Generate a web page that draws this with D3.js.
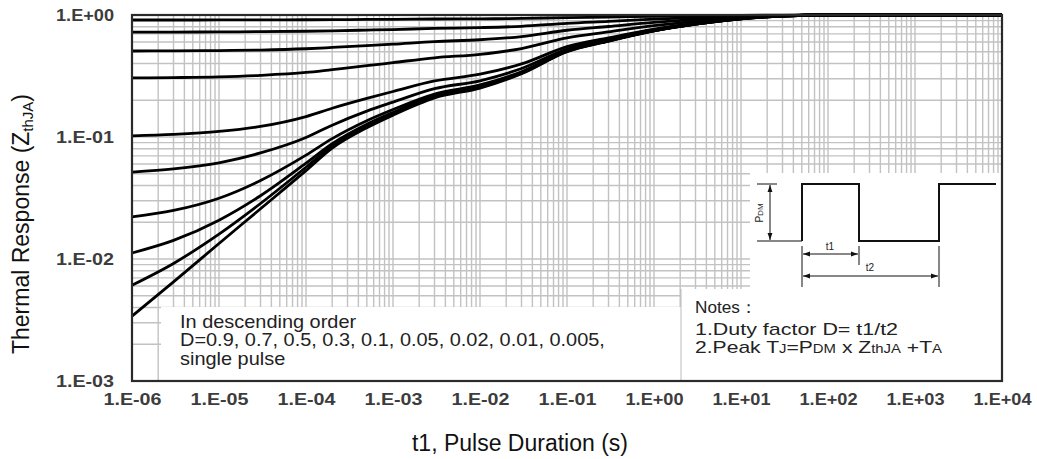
<!DOCTYPE html>
<html>
<head>
<meta charset="utf-8">
<script src="https://cdn.jsdelivr.net/npm/d3@7"></script>
<style>
  body { margin: 0; background: #fff; }
  text { font-family: "Liberation Sans", Arial, sans-serif; }
</style>
</head>
<body>
<div id="chart"></div>
<script>
const pulseTimes = [1e-6, 3e-6, 1e-5, 3e-5, 1e-4, 2e-4, 5e-4, 1e-3, 3e-3, 1e-2, 3e-2, 1e-1, 3e-1, 1, 3, 10, 30, 100, 1e4];

// thermal response per duty factor
const zD090 = [0.91, 0.91, 0.911, 0.912, 0.914, 0.916, 0.92, 0.922, 0.927, 0.93, 0.937, 0.952, 0.962, 0.975, 0.985, 0.993, 0.998, 1, 1];
const zD070 = [0.725, 0.725, 0.727, 0.73, 0.736, 0.742, 0.752, 0.76, 0.776, 0.788, 0.808, 0.855, 0.886, 0.924, 0.953, 0.979, 0.994, 1, 1];
const zD050 = [0.507, 0.508, 0.511, 0.516, 0.529, 0.542, 0.561, 0.577, 0.606, 0.627, 0.666, 0.75, 0.805, 0.87, 0.92, 0.965, 0.99, 1, 1];
const zD030 = [0.305, 0.307, 0.311, 0.32, 0.338, 0.357, 0.384, 0.407, 0.446, 0.476, 0.531, 0.65, 0.727, 0.818, 0.888, 0.951, 0.986, 1, 1];
const zD010 = [0.102, 0.105, 0.111, 0.122, 0.147, 0.172, 0.207, 0.236, 0.288, 0.327, 0.397, 0.55, 0.649, 0.766, 0.856, 0.937, 0.982, 1, 1];
const zD005 = [0.0516, 0.0548, 0.0615, 0.074, 0.099, 0.125, 0.163, 0.193, 0.249, 0.289, 0.364, 0.525, 0.63, 0.753, 0.848, 0.934, 0.981, 1, 1];
const zD002 = [0.0221, 0.025, 0.0315, 0.044, 0.071, 0.097, 0.136, 0.168, 0.225, 0.267, 0.343, 0.51, 0.618, 0.745, 0.843, 0.931, 0.98, 1, 1];
const zD001 = [0.0112, 0.0142, 0.0208, 0.033, 0.061, 0.088, 0.127, 0.159, 0.217, 0.259, 0.337, 0.505, 0.614, 0.743, 0.842, 0.931, 0.98, 1, 1];
const zD0005 = [0.0061, 0.0092, 0.016, 0.0285, 0.0565, 0.084, 0.123, 0.155, 0.213, 0.256, 0.334, 0.503, 0.612, 0.741, 0.841, 0.93, 0.98, 1, 1];
const zSingle = [0.0034, 0.0065, 0.0134, 0.0258, 0.053, 0.081, 0.119, 0.151, 0.209, 0.252, 0.33, 0.5, 0.61, 0.74, 0.84, 0.93, 0.98, 1, 1];

const xTickValues = [1e-6, 1e-5, 1e-4, 1e-3, 1e-2, 1e-1, 1, 10, 100, 1000, 10000];
const xTickLabels = ["1.E-06", "1.E-05", "1.E-04", "1.E-03", "1.E-02", "1.E-01", "1.E+00", "1.E+01", "1.E+02", "1.E+03", "1.E+04"];
const yTickValues = [1e-3, 1e-2, 1e-1, 1];
const yTickLabels = ["1.E-03", "1.E-02", "1.E-01", "1.E+00"];

const legendLines = ["In descending order", "D=0.9, 0.7, 0.5, 0.3, 0.1, 0.05, 0.02, 0.01, 0.005,", "single pulse"];

const series = [zD090, zD070, zD050, zD030, zD010, zD005, zD002, zD001, zD0005, zSingle]
  .map(vals => vals.map((z, i) => ({ t: pulseTimes[i], z: z })));

const W = 1037, H = 459;
const pLeft = 132, pTop = 15, pRight = 1002, pBottom = 381;

const svg = d3.select("#chart").append("svg")
  .attr("width", W)
  .attr("height", H);

const x = d3.scaleLog().domain([1e-6, 1e4]).range([pLeft, pRight]);
const y = d3.scaleLog().domain([1e-3, 1]).range([pBottom, pTop]);

// log grid, 1..9 in every decade
const xGrid = [], yGrid = [];
for (let e = -6; e < 4; e++) for (let k = 1; k < 10; k++) xGrid.push(k * Math.pow(10, e));
for (let e = -3; e < 0; e++) for (let k = 1; k < 10; k++) yGrid.push(k * Math.pow(10, e));

svg.append("g").selectAll("line")
  .data(xGrid).enter().append("line")
  .attr("x1", d => x(d)).attr("x2", d => x(d))
  .attr("y1", pTop).attr("y2", pBottom)
  .attr("stroke", "#c2c2c2").attr("stroke-width", 1.4);

svg.append("g").selectAll("line")
  .data(yGrid).enter().append("line")
  .attr("x1", pLeft).attr("x2", pRight)
  .attr("y1", d => y(d)).attr("y2", d => y(d))
  .attr("stroke", "#c2c2c2").attr("stroke-width", 1.4);

// white panels for the inset, legend and notes
svg.append("rect").attr("x", 750).attr("y", 173).attr("width", pRight - 750).attr("height", 116).attr("fill", "#fff");
svg.append("rect").attr("x", 161).attr("y", 307).attr("width", 520).attr("height", pBottom - 307).attr("fill", "#fff");
svg.append("rect").attr("x", 681).attr("y", 289).attr("width", pRight - 681).attr("height", pBottom - 289).attr("fill", "#fff");
svg.append("line").attr("x1", 681).attr("x2", 681).attr("y1", 289).attr("y2", pBottom)
  .attr("stroke", "#bbb").attr("stroke-width", 1);

// curves
const line = d3.line()
  .x(d => x(d.t))
  .y(d => y(d.z))
  .curve(d3.curveMonotoneX);

svg.append("g").selectAll("path")
  .data(series).enter().append("path")
  .attr("d", line)
  .attr("fill", "none")
  .attr("stroke", "#000")
  .attr("stroke-width", 2.8);

// frame
svg.append("rect")
  .attr("x", pLeft).attr("y", pTop)
  .attr("width", pRight - pLeft).attr("height", pBottom - pTop)
  .attr("fill", "none").attr("stroke", "#2a2a2a").attr("stroke-width", 2.2);

// axes
const xAxis = d3.axisBottom(x).tickValues(xTickValues)
  .tickFormat((d, i) => xTickLabels[i]).tickSize(0).tickPadding(13);
const gx = svg.append("g").attr("transform", `translate(0,${pBottom})`).call(xAxis);
gx.select(".domain").remove();
gx.selectAll("text")
  .attr("font-size", 16).attr("font-weight", "bold").attr("fill", "#3c3c3c")
  .attr("textLength", 58).attr("lengthAdjust", "spacingAndGlyphs");

const yAxis = d3.axisLeft(y).tickValues(yTickValues)
  .tickFormat((d, i) => yTickLabels[i]).tickSize(0).tickPadding(18);
const gy = svg.append("g").attr("transform", `translate(${pLeft},0)`).call(yAxis);
gy.select(".domain").remove();
gy.selectAll("text")
  .attr("font-size", 16).attr("font-weight", "bold").attr("fill", "#3c3c3c")
  .attr("textLength", 58).attr("lengthAdjust", "spacingAndGlyphs");

// axis titles
svg.append("text")
  .attr("x", 520).attr("y", 451)
  .attr("text-anchor", "middle")
  .attr("font-size", 23).attr("fill", "#111")
  .text("t1, Pulse Duration (s)");

const yt = svg.append("text")
  .attr("transform", "translate(29,224) rotate(-90)")
  .attr("text-anchor", "middle")
  .attr("font-size", 23).attr("fill", "#111");
yt.append("tspan").text("Thermal Response (Z");
yt.append("tspan").attr("font-size", 15).attr("dy", 4).text("thJA");
yt.append("tspan").attr("dy", -4).text(")");

// legend text, stretched sideways like the original
const lg = svg.append("g").attr("transform", "translate(180,0)");
lg.selectAll("text")
  .data(legendLines).enter().append("text")
  .attr("x", 0)
  .attr("y", (d, i) => 328 + i * 18.5)
  .attr("font-size", 17.5).attr("fill", "#222")
  .text(d => d);
const natW = lg.selectAll("text").nodes()[1].getComputedTextLength();
lg.attr("transform", `translate(180,0) scale(${425 / natW},1)`);

// notes
svg.append("text").attr("x", 695).attr("y", 313)
  .attr("font-size", 17).attr("fill", "#222")
  .attr("textLength", 62).attr("lengthAdjust", "spacingAndGlyphs")
  .text("Notes：");
svg.append("text").attr("x", 695).attr("y", 335)
  .attr("font-size", 17).attr("fill", "#222")
  .attr("textLength", 203).attr("lengthAdjust", "spacingAndGlyphs")
  .text("1.Duty factor D= t1/t2");
const n2 = svg.append("text").attr("x", 695).attr("y", 353)
  .attr("font-size", 17).attr("fill", "#222")
  .attr("textLength", 247).attr("lengthAdjust", "spacingAndGlyphs");
n2.append("tspan").text("2.Peak T");
n2.append("tspan").attr("font-size", 12).text("J");
n2.append("tspan").text("=P");
n2.append("tspan").attr("font-size", 12).text("DM");
n2.append("tspan").text(" x Z");
n2.append("tspan").attr("font-size", 12).text("thJA");
n2.append("tspan").text(" +T");
n2.append("tspan").attr("font-size", 12).text("A");

// pulse sketch
const defs = svg.append("defs");
defs.append("marker").attr("id", "arr")
  .attr("viewBox", "0 0 10 10").attr("refX", 10).attr("refY", 5)
  .attr("markerWidth", 7).attr("markerHeight", 7).attr("orient", "auto-start-reverse")
  .append("path").attr("d", "M0,1.5L10,5L0,8.5z").attr("fill", "#111");

const ins = svg.append("g").attr("stroke", "#111").attr("fill", "none");
ins.append("path").attr("d", "M757,184H777M757,241H802").attr("stroke-width", 1);
ins.append("path").attr("d", "M802,241V184H859V241H939V184H996").attr("stroke-width", 2);
ins.append("path").attr("d", "M802,246V287M859,246V265M939,246V287").attr("stroke-width", 1);
ins.append("line").attr("x1", 770).attr("x2", 770).attr("y1", 185).attr("y2", 240)
  .attr("stroke-width", 1).attr("marker-start", "url(#arr)").attr("marker-end", "url(#arr)");
ins.append("line").attr("x1", 803).attr("x2", 858).attr("y1", 254).attr("y2", 254)
  .attr("stroke-width", 1).attr("marker-start", "url(#arr)").attr("marker-end", "url(#arr)");
ins.append("line").attr("x1", 803).attr("x2", 938).attr("y1", 276).attr("y2", 276)
  .attr("stroke-width", 1).attr("marker-start", "url(#arr)").attr("marker-end", "url(#arr)");

const pdm = svg.append("text")
  .attr("transform", "translate(763,213) rotate(-90)")
  .attr("text-anchor", "middle").attr("font-size", 10).attr("fill", "#222");
pdm.append("tspan").text("P");
pdm.append("tspan").attr("font-size", 8).text("DM");
svg.append("text").attr("x", 830).attr("y", 250).attr("text-anchor", "middle")
  .attr("font-size", 10).attr("fill", "#222").text("t1");
svg.append("text").attr("x", 870).attr("y", 271).attr("text-anchor", "middle")
  .attr("font-size", 10).attr("fill", "#222").text("t2");
</script>
</body>
</html>
